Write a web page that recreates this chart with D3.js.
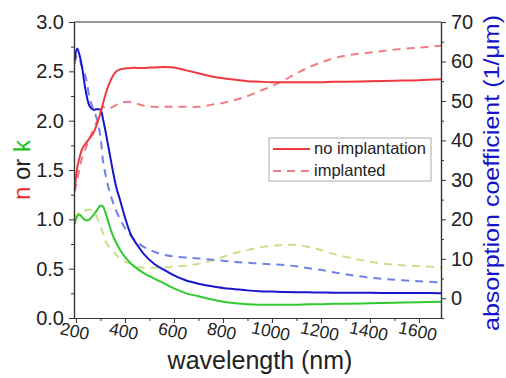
<!DOCTYPE html>
<html>
<head>
<meta charset="utf-8">
<script src="https://cdn.jsdelivr.net/npm/d3@7"></script>
<style>
  body { margin: 0; background: #fff; }
  svg { font-family: "Liberation Sans", Arial, sans-serif; }
</style>
</head>
<body>
<svg id="chart" width="506" height="378"></svg>
<script>
// wavelength grid (nm), shared by every series
var wavelength = [195, 205, 215, 225, 240, 255, 270, 285, 300, 310, 320, 335, 350, 365, 380, 400, 425, 450, 480, 520,
  560, 600, 650, 700, 750, 800, 850, 900, 950, 1000, 1050, 1100, 1150, 1200, 1250, 1300, 1400, 1500, 1600, 1690];

// n, no implantation / implanted
var nNoImpl = [1.30, 1.52, 1.63, 1.71, 1.77, 1.82, 1.87, 1.96, 2.08, 2.17, 2.26, 2.37, 2.45, 2.50, 2.52, 2.53, 2.535, 2.535, 2.535, 2.54,
  2.545, 2.54, 2.51, 2.48, 2.45, 2.43, 2.415, 2.40, 2.395, 2.39, 2.39, 2.39, 2.39, 2.39, 2.395, 2.395, 2.40, 2.405, 2.41, 2.42];
var nImpl = [1.28, 1.40, 1.52, 1.62, 1.72, 1.82, 1.90, 1.99, 2.08, 2.14, 2.13, 2.12, 2.14, 2.16, 2.18, 2.19, 2.19, 2.17, 2.15, 2.14,
  2.14, 2.14, 2.14, 2.14, 2.16, 2.18, 2.21, 2.25, 2.30, 2.35, 2.41, 2.48, 2.54, 2.59, 2.63, 2.66, 2.69, 2.72, 2.74, 2.76];

// k, no implantation / implanted
var kNoImpl = [0.95, 1.03, 1.05, 1.02, 0.99, 1.00, 1.04, 1.09, 1.14, 1.13, 1.07, 0.95, 0.84, 0.76, 0.69, 0.62, 0.55, 0.50, 0.45, 0.40,
  0.35, 0.30, 0.25, 0.22, 0.19, 0.165, 0.15, 0.14, 0.135, 0.135, 0.135, 0.135, 0.14, 0.14, 0.145, 0.145, 0.15, 0.155, 0.16, 0.165];
var kImpl = [1.00, 1.05, 1.08, 1.09, 1.09, 1.10, 1.09, 1.03, 0.93, 0.86, 0.78, 0.72, 0.68, 0.64, 0.60, 0.57, 0.55, 0.52, 0.51, 0.51,
  0.51, 0.52, 0.53, 0.55, 0.58, 0.62, 0.66, 0.69, 0.715, 0.73, 0.74, 0.74, 0.72, 0.69, 0.65, 0.62, 0.57, 0.54, 0.525, 0.515];

// absorption coefficient (1/um), no implantation / implanted
var alphaNoImpl = [60.5, 63.3, 61.5, 58.5, 52.5, 48.8, 47.8, 47.9, 47.8, 45.5, 42.5, 37.5, 32.5, 28.0, 24.9, 20.5, 16.0, 13.5, 11.0, 8.7,
  7.2, 5.8, 4.5, 3.7, 3.1, 2.6, 2.3, 2.0, 1.8, 1.7, 1.6, 1.55, 1.5, 1.45, 1.42, 1.4, 1.37, 1.35, 1.33, 1.3];
var alphaImpl = [59.5, 61.5, 60.5, 58.5, 56.0, 51.0, 48.0, 45.5, 41.0, 35.0, 31.5, 27.5, 24.5, 22.0, 20.0, 17.8, 15.8, 14.2, 12.9, 11.8,
  11.0, 10.6, 10.3, 10.1, 9.8, 9.5, 9.2, 9.0, 8.8, 8.6, 8.4, 8.1, 7.6, 7.2, 6.6, 6.1, 5.2, 4.7, 4.3, 4.0];

// ticks
var xTicks = [200, 400, 600, 800, 1000, 1200, 1400, 1600];
var xMinor = [300, 500, 700, 900, 1100, 1300, 1500];
var yLeftTicks = [0, 0.5, 1.0, 1.5, 2.0, 2.5, 3.0];
var yLeftMinor = [0.25, 0.75, 1.25, 1.75, 2.25, 2.75];
var yRightTicks = [0, 10, 20, 30, 40, 50, 60, 70];
var yRightMinor = [-5, 5, 15, 25, 35, 45, 55, 65];

var legendItems = ["no implantation", "implanted"];

var svg = d3.select("#chart");
var plotL = 74, plotR = 441, plotT = 22, plotB = 318;

var x = d3.scaleLinear().domain([192, 1690]).range([plotL, plotR]);
var yL = d3.scaleLinear().domain([0, 3]).range([plotB, plotT]);
var yR = d3.scaleLinear().domain([-5, 70]).range([plotB, plotT]);

// frame top line
svg.append("line")
  .attr("x1", plotL).attr("x2", plotR).attr("y1", plotT).attr("y2", plotT)
  .attr("stroke", "#333").attr("stroke-width", 1.2);

function drawSeries(values, scale, color, dashed) {
  var line = d3.line()
    .x(function(d, i) { return x(wavelength[i]); })
    .y(function(d) { return scale(d); })
    .curve(d3.curveCatmullRom.alpha(0.5));
  svg.append("path")
    .datum(values)
    .attr("d", line)
    .attr("fill", "none")
    .attr("stroke", color)
    .attr("stroke-width", 2)
    .attr("stroke-dasharray", dashed ? "8,6" : null);
}

// dashed (implanted) first, solid on top
drawSeries(kImpl, yL, "#c9df8e", true);
drawSeries(alphaImpl, yR, "#6f83e6", true);
drawSeries(nImpl, yL, "#f07c84", true);
drawSeries(kNoImpl, yL, "#2fcb2f", false);
drawSeries(alphaNoImpl, yR, "#1616cc", false);
drawSeries(nNoImpl, yL, "#ee3a3f", false);

// axes
function styleAxis(g) {
  g.selectAll("path").attr("stroke", "#333").attr("stroke-width", 1.2);
  g.selectAll("line").attr("stroke", "#333").attr("stroke-width", 1);
  g.selectAll("text").attr("fill", "#222").style("font-size", "19px");
}

var gx = svg.append("g").attr("transform", "translate(0," + plotB + ")")
  .call(d3.axisBottom(x).tickValues(xTicks).tickFormat(d3.format("d")).tickSize(5).tickSizeOuter(0))
  .call(styleAxis);
gx.selectAll(".tick text")
  .style("font-size", "17.5px")
  .attr("y", 0).attr("dy", 0)
  .attr("transform", "translate(-3,19) rotate(12)");
svg.append("g").attr("transform", "translate(0," + plotB + ")")
  .call(d3.axisBottom(x).tickValues(xMinor).tickSize(3).tickFormat("").tickSizeOuter(0))
  .call(styleAxis);

var gyl = svg.append("g").attr("transform", "translate(" + plotL + ",0)")
  .call(d3.axisLeft(yL).tickValues(yLeftTicks).tickFormat(d3.format(".1f")).tickSize(5).tickSizeOuter(0).tickPadding(5))
  .call(styleAxis);
gyl.selectAll(".tick text").style("font-size", "20px");
svg.append("g").attr("transform", "translate(" + plotL + ",0)")
  .call(d3.axisLeft(yL).tickValues(yLeftMinor).tickSize(3).tickFormat("").tickSizeOuter(0))
  .call(styleAxis);

var gyr = svg.append("g").attr("transform", "translate(" + plotR + ",0)")
  .call(d3.axisRight(yR).tickValues(yRightTicks).tickSize(5).tickSizeOuter(0).tickPadding(5))
  .call(styleAxis);
gyr.selectAll(".tick text").style("font-size", "20px");
svg.append("g").attr("transform", "translate(" + plotR + ",0)")
  .call(d3.axisRight(yR).tickValues(yRightMinor).tickSize(3).tickFormat("").tickSizeOuter(0))
  .call(styleAxis);

// axis titles
svg.append("text")
  .attr("x", 260).attr("y", 369)
  .attr("text-anchor", "middle")
  .style("font-size", "25px").attr("fill", "#222")
  .text("wavelength (nm)");

var ylab = svg.append("text")
  .attr("transform", "translate(30,170) rotate(-90)")
  .attr("text-anchor", "middle")
  .style("font-size", "24px");
ylab.append("tspan").attr("fill", "#e8262b").text("n");
ylab.append("tspan").attr("fill", "#222").text(" or ");
ylab.append("tspan").attr("fill", "#19c319").text("k");

svg.append("text")
  .attr("transform", "translate(499,173) rotate(-90)")
  .attr("text-anchor", "middle")
  .style("font-size", "22px").attr("fill", "#1414cc")
  .attr("textLength", 316).attr("lengthAdjust", "spacingAndGlyphs")
  .text("absorption coefficient (1/\u03bcm)");

// legend
var lg = svg.append("g");
lg.append("rect")
  .attr("x", 269).attr("y", 138).attr("width", 162).attr("height", 43)
  .attr("fill", "#fff").attr("stroke", "#aaa").attr("stroke-width", 1);
legendItems.forEach(function(name, i) {
  var yy = 149 + i * 22;
  lg.append("line")
    .attr("x1", 273).attr("x2", 310).attr("y1", yy).attr("y2", yy)
    .attr("stroke", i === 0 ? "#ee3a3f" : "#f07c84")
    .attr("stroke-width", 2)
    .attr("stroke-dasharray", i === 0 ? null : "8,6");
  lg.append("text")
    .attr("x", 314).attr("y", yy + 5)
    .style("font-size", "16.5px").attr("fill", "#222")
    .text(name);
});
</script>
</body>
</html>
